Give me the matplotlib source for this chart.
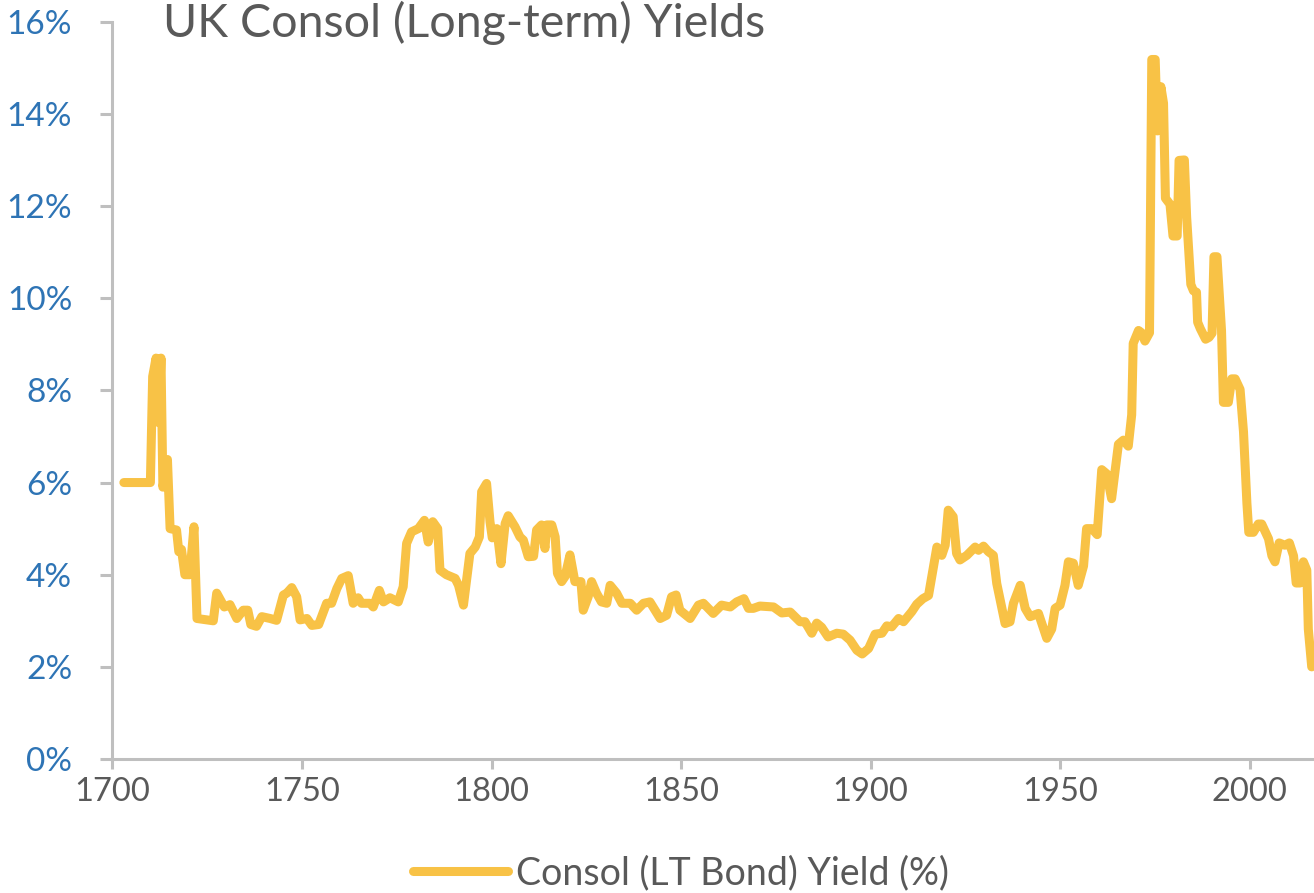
import matplotlib
matplotlib.use("Agg")
import matplotlib.pyplot as plt
from matplotlib.ticker import FuncFormatter

# yield readings (year, %) taken off the chart
years = [1703, 1710, 1710.6, 1711.5, 1712.2, 1712.8, 1713.3, 1714.5, 1715.2, 1716.9,
         1717.5, 1718.2, 1719.1, 1720.4, 1721.5, 1722.3, 1726.6, 1727.5, 1729.5, 1731,
         1732.8, 1734.5, 1735.7, 1736.5, 1738, 1739.4, 1741.6, 1743.3, 1745.1, 1746,
         1747.3, 1748.6, 1749.5, 1751.3, 1752.6, 1754.4, 1756.5, 1757.8, 1759.2, 1760.5,
         1762.2, 1763.5, 1764.8, 1765.7, 1767.9, 1768.8, 1770.4, 1771.5, 1773.2, 1775.4,
         1776.7, 1777.6, 1778.9, 1780.7, 1782.3, 1783.3, 1784.5, 1785.8, 1786.4, 1788.1,
         1790.4, 1791.3, 1792.6, 1794.3, 1795.7, 1796.8, 1797.4, 1798.7, 1799.6, 1800.2,
         1801.4, 1802.5, 1803.6, 1804.4, 1806.2, 1807.5, 1808.4, 1809.7, 1811.1, 1811.9,
         1813.2, 1814.1, 1814.6, 1815.9, 1816.8, 1817.4, 1818.5, 1819.4, 1820.7, 1822,
         1823.6, 1824.2, 1825.5, 1826.4, 1827.7, 1829, 1830.4, 1831.3, 1833, 1834.4,
         1836.6, 1838.3, 1840.1, 1841.8, 1844.5, 1846.2, 1847.5, 1848.7, 1849.7, 1852.4,
         1854.6, 1855.9, 1858.5, 1860.7, 1863, 1864.7, 1866.6, 1867.8, 1869.1, 1870.8,
         1874.4, 1876.6, 1878.8, 1881.4, 1882.7, 1884.5, 1885.8, 1887.1, 1888.8, 1891.1,
         1892.8, 1894.6, 1896.4, 1897.8, 1899.5, 1901.2, 1903, 1904.3, 1905.6, 1907.4,
         1908.7, 1910.9, 1912.2, 1913.8, 1915.3, 1916.6, 1917.5, 1918.8, 1919.7, 1920.5,
         1921.8, 1922.7, 1923.6, 1925.4, 1927.6, 1928.5, 1929.8, 1931.1, 1932.4, 1933.3,
         1934.6, 1935.5, 1936.8, 1937.7, 1939.5, 1940.8, 1942.1, 1944.3, 1946.5, 1947.8,
         1948.7, 1950, 1951.3, 1952.2, 1953.5, 1954.8, 1956.2, 1957, 1958.4, 1959.8,
         1961, 1962.3, 1963.6, 1965.4, 1966.7, 1968, 1968.9, 1969.3, 1970.7, 1971.5,
         1972.4, 1973.6, 1974.2, 1975.1, 1975.7, 1976.6, 1977.3, 1977.8, 1979, 1979.8,
         1980.9, 1981.4, 1982.8, 1983.4, 1984.5, 1985.2, 1986, 1986.3, 1987, 1988.4,
         1989.3, 1990.1, 1990.6, 1991.4, 1992.6, 1993.1, 1994.4, 1995.3, 1996.2, 1997.5,
         1998.4, 1999.3, 1999.8, 2001, 2002.3, 2003.2, 2005, 2005.9, 2006.7, 2007.8,
         2009.3, 2010.5, 2011.6, 2012.3, 2013.3, 2014.2, 2015.1, 2015.5, 2016.4]
yields = [6.0, 6.0, 8.3, 8.7, 7.3, 8.7, 5.9, 6.5, 5.0, 4.97,
          4.5, 4.55, 4.0, 4.0, 5.04, 3.05, 3.0, 3.6, 3.3, 3.35,
          3.05, 3.23, 3.23, 2.92, 2.88, 3.09, 3.05, 3.01, 3.56, 3.6,
          3.72, 3.52, 3.02, 3.05, 2.9, 2.92, 3.38, 3.38, 3.7, 3.92,
          3.98, 3.38, 3.5, 3.38, 3.38, 3.3, 3.66, 3.41, 3.5, 3.41,
          3.74, 4.68, 4.93, 5.0, 5.18, 4.71, 5.15, 5.0, 4.1, 4.0,
          3.92, 3.77, 3.34, 4.46, 4.6, 4.82, 5.8, 5.98, 5.15, 4.8,
          5.0, 4.24, 5.11, 5.28, 5.04, 4.82, 4.75, 4.39, 4.4, 4.97,
          5.08, 4.57, 5.08, 5.08, 4.82, 4.03, 3.85, 3.96, 4.43, 3.85,
          3.85, 3.23, 3.52, 3.85, 3.6, 3.41, 3.38, 3.77, 3.6, 3.38,
          3.38, 3.23, 3.38, 3.41, 3.05, 3.12, 3.52, 3.56, 3.23, 3.05,
          3.34, 3.38, 3.16, 3.34, 3.3, 3.41, 3.48, 3.27, 3.27, 3.32,
          3.3, 3.17, 3.19, 2.98, 2.98, 2.73, 2.95, 2.86, 2.65, 2.73,
          2.71, 2.58, 2.36, 2.28, 2.4, 2.71, 2.73, 2.89, 2.87, 3.05,
          2.98, 3.2, 3.36, 3.48, 3.55, 4.17, 4.6, 4.42, 4.64, 5.4,
          5.26, 4.46, 4.32, 4.42, 4.6, 4.53, 4.62, 4.5, 4.42, 3.81,
          3.3, 2.94, 2.98, 3.38, 3.77, 3.27, 3.09, 3.16, 2.62, 2.82,
          3.27, 3.34, 3.77, 4.28, 4.25, 3.77, 4.19, 5.0, 5.0, 4.87,
          6.28, 6.19, 5.65, 6.83, 6.92, 6.79, 7.47, 9.02, 9.3, 9.25,
          9.07, 9.25, 15.18, 15.18, 13.63, 14.59, 14.23, 12.17, 12.04, 11.35,
          11.35, 12.99, 13.0, 11.76, 10.3, 10.16, 10.13, 9.48, 9.34, 9.11,
          9.15, 9.24, 10.9, 10.9, 9.3, 7.74, 7.74, 8.25, 8.25, 8.02,
          7.1, 5.55, 4.92, 4.92, 5.1, 5.1, 4.78, 4.41, 4.28, 4.69,
          4.64, 4.69, 4.41, 3.82, 3.82, 4.28, 4.1, 2.82, 2.0]

x_ticks = [1700, 1750, 1800, 1850, 1900, 1950, 2000]
y_ticks = [0, 2, 4, 6, 8, 10, 12, 14, 16]

plt.rcParams['font.family'] = ['Lato', 'DejaVu Sans']

fig = plt.figure(figsize=(13.14, 8.93), dpi=100)
ax = fig.add_axes([0.0856, 0.150, 0.9144, 0.8257])

ax.plot(years, yields, color='#F8C246', linewidth=6.5, solid_joinstyle='round',
        solid_capstyle='round', label='Consol (LT Bond) Yield (%)', clip_on=False)

ax.set_xlim(1700, 2017)
ax.set_ylim(0, 16)
ax.set_xticks(x_ticks)
ax.set_yticks(y_ticks)
ax.yaxis.set_major_formatter(FuncFormatter(lambda v, p: '%d%%' % v))

for s in ['top', 'right']:
    ax.spines[s].set_visible(False)
for s in ['left', 'bottom']:
    ax.spines[s].set_color('#BFBFBF')
    ax.spines[s].set_linewidth(2.2)

ax.tick_params(axis='y', direction='out', length=9, width=2.2, color='#BFBFBF',
               labelsize=24, labelcolor='#2E74B5', pad=20)
ax.tick_params(axis='x', direction='out', length=7, width=2.2, color='#BFBFBF',
               labelsize=23.5, labelcolor='#595959', pad=6)

fig.text(0.124, 0.9586, 'UK Consol (Long-term) Yields', fontsize=33.5, color='#595959',
         ha='left', va='baseline')

leg = fig.legend(loc='center', bbox_to_anchor=(0.518, 0.0224), frameon=False,
                 fontsize=27, handlelength=2.55, handletextpad=0.2)
for t in leg.get_texts():
    t.set_color('#595959')

fig.savefig('out.png', dpi=100)
